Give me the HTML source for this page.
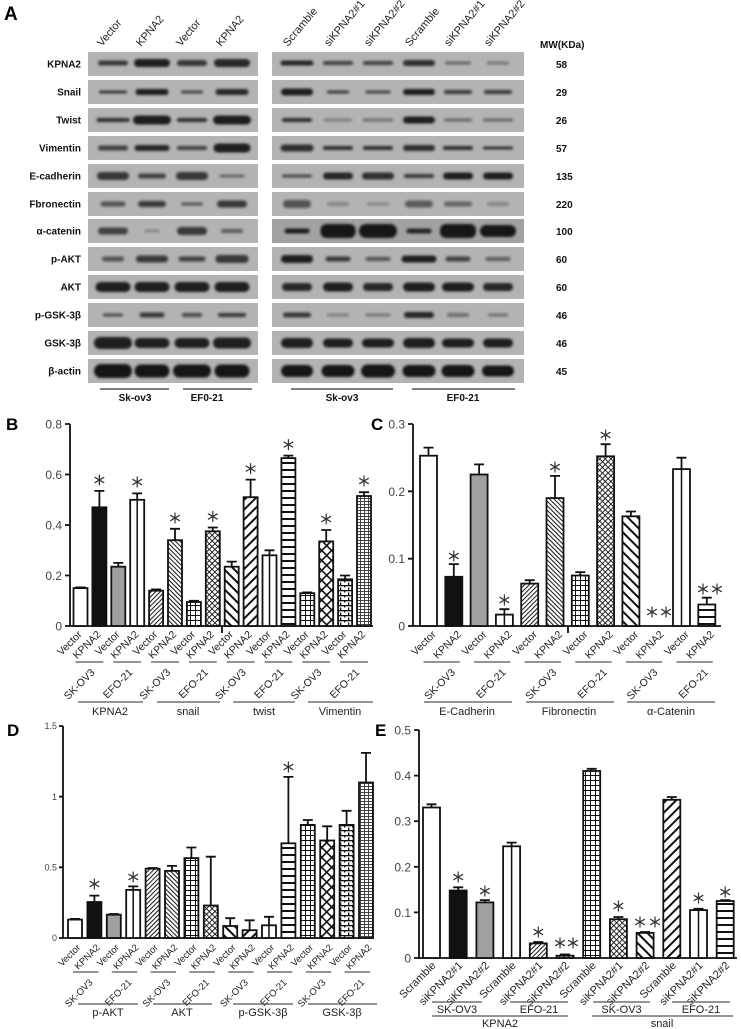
<!DOCTYPE html>
<html><head><meta charset="utf-8"><style>
html,body{margin:0;padding:0;background:#fff}
svg{display:block}
text{font-family:"Liberation Sans",Arial,sans-serif}
.lb{font-weight:bold;font-size:10px;fill:#111}
.hd{font-size:11px;fill:#222}
.tk{font-size:12px;fill:#444}
.tk9{font-size:9px;fill:#444}
.xl{font-size:10.5px;fill:#222}
.xd{font-size:9.5px;fill:#222}
.xe{font-size:11px;fill:#222}
.gl{font-size:11px;fill:#222}
.pl{font-weight:bold;fill:#000}
</style></head><body>
<svg width="741" height="1029" viewBox="0 0 741 1029" xmlns="http://www.w3.org/2000/svg">
<defs>
<filter id="bl" x="-30%" y="-150%" width="160%" height="400%"><feGaussianBlur stdDeviation="1.3"/></filter>
<pattern id="pd1" patternUnits="userSpaceOnUse" width="3.2" height="3.2" patternTransform="rotate(45)"><rect width="3.2" height="3.2" fill="#fff"/><rect width="1" height="3.2" fill="#111"/></pattern>
<pattern id="pd2" patternUnits="userSpaceOnUse" width="3.2" height="3.2" patternTransform="rotate(-45)"><rect width="3.2" height="3.2" fill="#fff"/><rect width="1" height="3.2" fill="#111"/></pattern>
<pattern id="pw1" patternUnits="userSpaceOnUse" width="7" height="7" patternTransform="rotate(45)"><rect width="7" height="7" fill="#fff"/><rect width="2" height="7" fill="#111"/></pattern>
<pattern id="pw2" patternUnits="userSpaceOnUse" width="7" height="7" patternTransform="rotate(-45)"><rect width="7" height="7" fill="#fff"/><rect width="2" height="7" fill="#111"/></pattern>
<pattern id="xh" patternUnits="userSpaceOnUse" width="4" height="4" patternTransform="rotate(45)"><rect width="4" height="4" fill="#fff"/><rect width="0.9" height="4" fill="#111"/><rect width="4" height="0.9" fill="#111"/></pattern>
<pattern id="dm" patternUnits="userSpaceOnUse" width="7" height="7" patternTransform="rotate(45)"><rect width="7" height="7" fill="#fff"/><rect width="1.6" height="7" fill="#111"/><rect width="7" height="1.6" fill="#111"/></pattern>
<pattern id="gr" patternUnits="userSpaceOnUse" width="5" height="5"><rect width="5" height="5" fill="#fff"/><rect width="1" height="5" fill="#111"/><rect width="5" height="1" fill="#111"/></pattern>
<pattern id="ph" patternUnits="userSpaceOnUse" width="10" height="7"><rect width="10" height="7" fill="#fff"/><rect width="10" height="2" fill="#111"/></pattern>
<pattern id="br" patternUnits="userSpaceOnUse" width="8" height="5"><rect width="8" height="5" fill="#fff"/><rect width="8" height="1.3" fill="#111"/><rect width="1.3" height="2.5" fill="#111"/><rect x="4" y="2.5" width="1.3" height="2.5" fill="#111"/></pattern>
<pattern id="br2" patternUnits="userSpaceOnUse" width="4" height="3"><rect width="4" height="3" fill="#fff"/><rect width="4" height="0.9" fill="#333"/><rect width="0.9" height="3" fill="#333"/></pattern>
<path id="st" d="M0-5.5V5.5M-4.8-2.8L4.8 2.8M-4.8 2.8L4.8-2.8" stroke="#333" stroke-width="1.2" fill="none"/>
</defs>
<rect width="741" height="1029" fill="#fff"/>

<!-- ============ PANEL A ============ -->
<text class="pl" x="4" y="20" font-size="19">A</text>
<g class="hd">
<text transform="translate(102,47) rotate(-50)">Vector</text>
<text transform="translate(141,47) rotate(-50)">KPNA2</text>
<text transform="translate(181,47) rotate(-50)">Vector</text>
<text transform="translate(221,47) rotate(-50)">KPNA2</text>
<text transform="translate(288,47) rotate(-50)">Scramble</text>
<text transform="translate(329,47) rotate(-50)">siKPNA2#1</text>
<text transform="translate(369,47) rotate(-50)">siKPNA2#2</text>
<text transform="translate(410,47) rotate(-50)">Scramble</text>
<text transform="translate(449,47) rotate(-50)">siKPNA2#1</text>
<text transform="translate(489,47) rotate(-50)">siKPNA2#2</text>
</g>
<text class="lb" x="540" y="48" font-size="11">MW(KDa)</text>

<g fill="#b3b3b3">
<rect x="88" y="52" width="170" height="24"/><rect x="272" y="52" width="252" height="24"/>
<rect x="88" y="80" width="170" height="24"/><rect x="272" y="80" width="252" height="24"/>
<rect x="88" y="108" width="170" height="24"/><rect x="272" y="108" width="252" height="24"/>
<rect x="88" y="136" width="170" height="24"/><rect x="272" y="136" width="252" height="24"/>
<rect x="88" y="164" width="170" height="24"/><rect x="272" y="164" width="252" height="24"/>
<rect x="88" y="192" width="170" height="24"/><rect x="272" y="192" width="252" height="24"/>
<rect x="88" y="219" width="170" height="24"/><rect x="272" y="219" width="252" height="24" fill="#a2a2a2"/>
<rect x="88" y="247" width="170" height="24"/><rect x="272" y="247" width="252" height="24"/>
<rect x="88" y="275" width="170" height="24"/><rect x="272" y="275" width="252" height="24"/>
<rect x="88" y="303" width="170" height="24"/><rect x="272" y="303" width="252" height="24"/>
<rect x="88" y="331" width="170" height="24"/><rect x="272" y="331" width="252" height="24"/>
<rect x="88" y="359" width="170" height="24"/><rect x="272" y="359" width="252" height="24"/>
</g>

<g fill="#151515" filter="url(#bl)">
<!-- KPNA2 -->
<rect x="98" y="60.5" width="30" height="5" rx="2.5" opacity=".75"/>
<rect x="134" y="59" width="36" height="8" rx="4" opacity=".95"/>
<rect x="177" y="60" width="30" height="6" rx="3" opacity=".8"/>
<rect x="214" y="59" width="36" height="8" rx="4" opacity=".9"/>
<rect x="280.5" y="60.5" width="33" height="5" rx="2.5" opacity=".9"/>
<rect x="323" y="61" width="30" height="4" rx="2" opacity=".7"/>
<rect x="363" y="61" width="30" height="4" rx="2" opacity=".7"/>
<rect x="403" y="60" width="32" height="6" rx="3" opacity=".85"/>
<rect x="445" y="61.5" width="26" height="3" rx="1.5" opacity=".5"/>
<rect x="487" y="61.5" width="22" height="3" rx="1.5" opacity=".4"/>
<!-- Snail -->
<rect x="99" y="90.5" width="28" height="3" rx="1.5" opacity=".8"/>
<rect x="135.5" y="89" width="33" height="6" rx="3" opacity=".95"/>
<rect x="181" y="90.5" width="22" height="3" rx="1.5" opacity=".7"/>
<rect x="215.5" y="89" width="33" height="6" rx="3" opacity=".9"/>
<rect x="281" y="88.5" width="32" height="7" rx="3.5" opacity=".95"/>
<rect x="327" y="90.5" width="22" height="3" rx="1.5" opacity=".75"/>
<rect x="365.5" y="90.5" width="25" height="3" rx="1.5" opacity=".7"/>
<rect x="403" y="89" width="32" height="6" rx="3" opacity=".95"/>
<rect x="444" y="90" width="28" height="4" rx="2" opacity=".75"/>
<rect x="484" y="90" width="28" height="4" rx="2" opacity=".75"/>
<!-- Twist -->
<rect x="96.5" y="118" width="33" height="4" rx="2" opacity=".85"/>
<rect x="133" y="115.5" width="38" height="9" rx="4.5" opacity=".95"/>
<rect x="177" y="118" width="30" height="4" rx="2" opacity=".85"/>
<rect x="213" y="115.5" width="38" height="9" rx="4.5" opacity=".95"/>
<rect x="282" y="118" width="30" height="4" rx="2" opacity=".85"/>
<rect x="324" y="118.5" width="28" height="3" rx="1.5" opacity=".35"/>
<rect x="363" y="118.5" width="30" height="3" rx="1.5" opacity=".45"/>
<rect x="403" y="116.5" width="32" height="7" rx="3.5" opacity=".95"/>
<rect x="444" y="118.5" width="28" height="3" rx="1.5" opacity=".5"/>
<rect x="483" y="118.5" width="30" height="3" rx="1.5" opacity=".5"/>
<!-- Vimentin -->
<rect x="98" y="145.5" width="30" height="5" rx="2.5" opacity=".7"/>
<rect x="134.5" y="145" width="35" height="6" rx="3" opacity=".9"/>
<rect x="177" y="146" width="30" height="4" rx="2" opacity=".7"/>
<rect x="213.5" y="143.5" width="37" height="9" rx="4.5" opacity=".95"/>
<rect x="280.5" y="144.5" width="33" height="7" rx="3.5" opacity=".85"/>
<rect x="323" y="146" width="30" height="4" rx="2" opacity=".85"/>
<rect x="363" y="146" width="30" height="4" rx="2" opacity=".85"/>
<rect x="403" y="145" width="32" height="6" rx="3" opacity=".85"/>
<rect x="443" y="146" width="30" height="4" rx="2" opacity=".85"/>
<rect x="483" y="146.5" width="30" height="3" rx="1.5" opacity=".85"/>
<!-- E-cadherin -->
<rect x="97" y="172" width="32" height="8" rx="4" opacity=".8"/>
<rect x="138" y="173.5" width="28" height="5" rx="2.5" opacity=".7"/>
<rect x="176" y="172" width="32" height="8" rx="4" opacity=".8"/>
<rect x="219.5" y="174.5" width="25" height="3" rx="1.5" opacity=".5"/>
<rect x="282" y="174.5" width="30" height="3" rx="1.5" opacity=".7"/>
<rect x="323" y="172.5" width="30" height="7" rx="3.5" opacity=".9"/>
<rect x="362" y="172.5" width="32" height="7" rx="3.5" opacity=".85"/>
<rect x="404" y="174" width="30" height="4" rx="2" opacity=".75"/>
<rect x="443" y="172.5" width="30" height="7" rx="3.5" opacity=".95"/>
<rect x="483" y="172.5" width="30" height="7" rx="3.5" opacity=".95"/>
<!-- Fbronectin -->
<rect x="100.5" y="201.5" width="25" height="5" rx="2.5" opacity=".6"/>
<rect x="138" y="201" width="28" height="6" rx="3" opacity=".75"/>
<rect x="181" y="202.5" width="22" height="3" rx="1.5" opacity=".6"/>
<rect x="217" y="200.5" width="30" height="7" rx="3.5" opacity=".75"/>
<rect x="283" y="200" width="28" height="8" rx="4" opacity=".6"/>
<rect x="327" y="202" width="22" height="4" rx="2" opacity=".3"/>
<rect x="367" y="202.5" width="22" height="3" rx="1.5" opacity=".25"/>
<rect x="405" y="200.5" width="28" height="7" rx="3.5" opacity=".55"/>
<rect x="444" y="201.5" width="28" height="5" rx="2.5" opacity=".5"/>
<rect x="487" y="202" width="22" height="4" rx="2" opacity=".3"/>
<!-- a-catenin -->
<rect x="98" y="227.5" width="30" height="7" rx="3.5" opacity=".7"/>
<rect x="144.5" y="229.5" width="15" height="3" rx="1.5" opacity=".3"/>
<rect x="177" y="227" width="30" height="8" rx="4" opacity=".75"/>
<rect x="221" y="229" width="22" height="4" rx="2" opacity=".55"/>
<rect x="284.5" y="228.5" width="25" height="5" rx="2.5" opacity=".95"/>
<rect x="320.5" y="224" width="35" height="14" rx="6" opacity="1"/>
<rect x="359" y="224" width="38" height="14" rx="7" opacity="1"/>
<rect x="406.5" y="228.5" width="25" height="5" rx="2.5" opacity=".9"/>
<rect x="440" y="224" width="36" height="14" rx="6" opacity="1"/>
<rect x="480" y="225" width="36" height="12" rx="6" opacity="1"/>
<!-- p-AKT -->
<rect x="102" y="256.5" width="22" height="5" rx="2.5" opacity=".6"/>
<rect x="136" y="255.5" width="32" height="7" rx="3.5" opacity=".75"/>
<rect x="178.5" y="256.5" width="27" height="5" rx="2.5" opacity=".7"/>
<rect x="215.5" y="255" width="33" height="8" rx="4" opacity=".8"/>
<rect x="281" y="255" width="32" height="8" rx="4" opacity=".95"/>
<rect x="325.5" y="256.5" width="25" height="5" rx="2.5" opacity=".75"/>
<rect x="365.5" y="257" width="25" height="4" rx="2" opacity=".6"/>
<rect x="401.5" y="255.5" width="35" height="7" rx="3.5" opacity=".95"/>
<rect x="445.5" y="256.5" width="25" height="5" rx="2.5" opacity=".7"/>
<rect x="485.5" y="257" width="25" height="4" rx="2" opacity=".55"/>
<!-- AKT -->
<rect x="95.5" y="282" width="35" height="10" rx="5" opacity=".95"/>
<rect x="134.5" y="282" width="35" height="10" rx="5" opacity=".95"/>
<rect x="174.5" y="282" width="35" height="10" rx="5" opacity=".95"/>
<rect x="214.5" y="282" width="35" height="10" rx="5" opacity=".95"/>
<rect x="282" y="283" width="30" height="8" rx="4" opacity=".9"/>
<rect x="323" y="282.5" width="30" height="9" rx="4.5" opacity=".95"/>
<rect x="363" y="283" width="30" height="8" rx="4" opacity=".9"/>
<rect x="403" y="282.5" width="32" height="9" rx="4.5" opacity=".95"/>
<rect x="442" y="282.5" width="32" height="9" rx="4.5" opacity=".95"/>
<rect x="483" y="283" width="30" height="8" rx="4" opacity=".9"/>
<!-- p-GSK-3b -->
<rect x="103" y="313.5" width="20" height="3" rx="1.5" opacity=".65"/>
<rect x="139.5" y="312.5" width="25" height="5" rx="2.5" opacity=".75"/>
<rect x="182" y="313" width="20" height="4" rx="2" opacity=".65"/>
<rect x="218" y="313" width="28" height="4" rx="2" opacity=".8"/>
<rect x="283" y="312.5" width="28" height="5" rx="2.5" opacity=".8"/>
<rect x="327" y="313.5" width="22" height="3" rx="1.5" opacity=".35"/>
<rect x="365.5" y="313.5" width="25" height="3" rx="1.5" opacity=".4"/>
<rect x="404" y="312" width="30" height="6" rx="3" opacity=".9"/>
<rect x="447" y="313" width="22" height="4" rx="2" opacity=".45"/>
<rect x="488" y="313.5" width="20" height="3" rx="1.5" opacity=".45"/>
<!-- GSK-3b -->
<rect x="94" y="337" width="38" height="12" rx="6" opacity=".95"/>
<rect x="134.5" y="338" width="35" height="10" rx="5" opacity=".95"/>
<rect x="174.5" y="338" width="35" height="10" rx="5" opacity=".95"/>
<rect x="213" y="337.5" width="38" height="11" rx="5.5" opacity=".95"/>
<rect x="281" y="338" width="32" height="10" rx="5" opacity=".95"/>
<rect x="323" y="338.5" width="30" height="9" rx="4.5" opacity=".95"/>
<rect x="362" y="338.5" width="32" height="9" rx="4.5" opacity=".95"/>
<rect x="403" y="338" width="32" height="10" rx="5" opacity=".95"/>
<rect x="442" y="338.5" width="32" height="9" rx="4.5" opacity=".95"/>
<rect x="483" y="338.5" width="30" height="9" rx="4.5" opacity=".95"/>
<!-- b-actin -->
<rect x="94" y="364" width="38" height="14" rx="7" opacity="1"/>
<rect x="134.5" y="364.5" width="35" height="13" rx="6.5" opacity="1"/>
<rect x="173" y="364.5" width="38" height="13" rx="6.5" opacity="1"/>
<rect x="214.5" y="364.5" width="35" height="13" rx="6.5" opacity="1"/>
<rect x="281" y="365" width="32" height="12" rx="6" opacity="1"/>
<rect x="321.5" y="365" width="33" height="12" rx="6" opacity="1"/>
<rect x="361" y="364.5" width="34" height="13" rx="6.5" opacity="1"/>
<rect x="402.5" y="365" width="33" height="12" rx="6" opacity="1"/>
<rect x="441.5" y="365" width="33" height="12" rx="6" opacity="1"/>
<rect x="482" y="365.5" width="32" height="11" rx="5.5" opacity="1"/>
</g>

<g class="lb" text-anchor="end">
<text x="81" y="67.5">KPNA2</text>
<text x="81" y="95.5">Snail</text>
<text x="81" y="123.5">Twist</text>
<text x="81" y="151.5">Vimentin</text>
<text x="81" y="179.5">E-cadherin</text>
<text x="81" y="207.5">Fbronectin</text>
<text x="81" y="234.5">α-catenin</text>
<text x="81" y="262.5">p-AKT</text>
<text x="81" y="290.5">AKT</text>
<text x="81" y="318.5">p-GSK-3β</text>
<text x="81" y="346.5">GSK-3β</text>
<text x="81" y="374.5">β-actin</text>
</g>
<g class="lb" font-size="11">
<text x="556" y="68">58</text>
<text x="556" y="96">29</text>
<text x="556" y="124">26</text>
<text x="556" y="152">57</text>
<text x="556" y="180">135</text>
<text x="556" y="208">220</text>
<text x="556" y="235">100</text>
<text x="556" y="263">60</text>
<text x="556" y="291">60</text>
<text x="556" y="319">46</text>
<text x="556" y="347">46</text>
<text x="556" y="375">45</text>
</g>
<g stroke="#555" stroke-width="1.5">
<line x1="100" y1="389" x2="169" y2="389"/><line x1="183" y1="389" x2="252" y2="389"/>
<line x1="291" y1="389" x2="393" y2="389"/><line x1="412" y1="389" x2="515" y2="389"/>
</g>
<g class="lb" text-anchor="middle">
<text x="135" y="401">Sk-ov3</text><text x="207" y="401">EF0-21</text>
<text x="342" y="401">Sk-ov3</text><text x="463" y="401">EF0-21</text>
</g>

<!-- ============ PANEL B ============ -->
<text class="pl" x="6" y="430" font-size="17">B</text>
<g stroke="#111" stroke-width="1.8" fill="none">
<path d="M70 424V626H373"/>
<path d="M65 424H70M65 474.5H70M65 525H70M65 575.5H70M65 626H70M222 626V633"/>
</g>
<g class="tk" text-anchor="end">
<text x="62" y="428.5">0.8</text><text x="62" y="479">0.6</text><text x="62" y="529.5">0.4</text><text x="62" y="580">0.2</text><text x="62" y="630.5">0</text>
</g>
<g stroke="#111" stroke-width="1.8">
<path d="M80.5 588.1V587.4M75.5 587.4H85.5M99.4 507.3V490.9M94.4 490.9H104.4M118.3 566.7V562.9M113.3 562.9H123.3M137.2 499.8V493.4M132.2 493.4H142.2M156.1 590.7V589.4M151.1 589.4H161.1M175 540.2V528.8M170 528.8H180M193.9 602V600.8M188.9 600.8H198.9M212.8 531.3V527.5M207.8 527.5H217.8M231.7 566.7V561.6M226.7 561.6H236.7M250.6 497.2V479.6M245.6 479.6H255.6M269.5 555.3V550.3M264.5 550.3H274.5M288.4 458.1V455.6M283.4 455.6H293.4M307.3 593.2V592.4M302.3 592.4H312.3M326.2 541.4V530M321.2 530H331.2M345.1 579.3V575.5M340.1 575.5H350.1M364 496V492.2M359 492.2H369"/>
<rect x="73.5" y="588.1" width="14" height="37.9" fill="#fff"/>
<rect x="92.4" y="507.3" width="14" height="118.7" fill="#111"/>
<rect x="111.3" y="566.7" width="14" height="59.3" fill="#a0a0a0"/>
<rect x="130.2" y="499.8" width="14" height="126.2" fill="#fff"/>
<rect x="149.1" y="590.7" width="14" height="35.3" fill="url(#pd1)"/>
<rect x="168" y="540.2" width="14" height="85.8" fill="url(#pd2)"/>
<rect x="186.9" y="602" width="14" height="24" fill="url(#gr)"/>
<rect x="205.8" y="531.3" width="14" height="94.7" fill="url(#xh)"/>
<rect x="224.7" y="566.7" width="14" height="59.3" fill="url(#pw2)"/>
<rect x="243.6" y="497.2" width="14" height="128.8" fill="url(#pw1)"/>
<rect x="262.5" y="555.3" width="14" height="70.7" fill="#fff"/>
<rect x="281.4" y="458.1" width="14" height="167.9" fill="url(#ph)"/>
<rect x="300.3" y="593.2" width="14" height="32.8" fill="url(#gr)"/>
<rect x="319.2" y="541.4" width="14" height="84.6" fill="url(#dm)"/>
<rect x="338.1" y="579.3" width="14" height="46.7" fill="url(#br)"/>
<rect x="357" y="496" width="14" height="130" fill="url(#br2)"/>
<path d="M137.2 499.8V626M269.5 555.3V626" stroke-width="1.5"/>
</g>
<use href="#st" x="99.4" y="480"/><use href="#st" x="137.2" y="482"/><use href="#st" x="175" y="518"/><use href="#st" x="212.8" y="516.5"/><use href="#st" x="250.6" y="468.6"/><use href="#st" x="288.4" y="444.6"/><use href="#st" x="326.2" y="519"/><use href="#st" x="364" y="481"/>
<g class="xl" text-anchor="end">
<text transform="translate(82.5,635) rotate(-45)">Vector</text>
<text transform="translate(101.4,635) rotate(-45)">KPNA2</text>
<text transform="translate(120.3,635) rotate(-45)">Vector</text>
<text transform="translate(139.2,635) rotate(-45)">KPNA2</text>
<text transform="translate(158.1,635) rotate(-45)">Vector</text>
<text transform="translate(177,635) rotate(-45)">KPNA2</text>
<text transform="translate(195.9,635) rotate(-45)">Vector</text>
<text transform="translate(214.8,635) rotate(-45)">KPNA2</text>
<text transform="translate(233.7,635) rotate(-45)">Vector</text>
<text transform="translate(252.6,635) rotate(-45)">KPNA2</text>
<text transform="translate(271.5,635) rotate(-45)">Vector</text>
<text transform="translate(290.4,635) rotate(-45)">KPNA2</text>
<text transform="translate(309.3,635) rotate(-45)">Vector</text>
<text transform="translate(328.2,635) rotate(-45)">KPNA2</text>
<text transform="translate(347.1,635) rotate(-45)">Vector</text>
<text transform="translate(366,635) rotate(-45)">KPNA2</text>
<text transform="translate(95.4,673) rotate(-45)">SK-OV3</text>
<text transform="translate(133.2,673) rotate(-45)">EFO-21</text>
<text transform="translate(171,673) rotate(-45)">SK-OV3</text>
<text transform="translate(208.8,673) rotate(-45)">EFO-21</text>
<text transform="translate(246.6,673) rotate(-45)">SK-OV3</text>
<text transform="translate(284.4,673) rotate(-45)">EFO-21</text>
<text transform="translate(322.2,673) rotate(-45)">SK-OV3</text>
<text transform="translate(360,673) rotate(-45)">EFO-21</text>
</g>
<g stroke="#555" stroke-width="1.2">
<path d="M75.5 662H103.4M113.3 662H141.2M151.1 662H179M188.9 662H216.8M226.7 662H254.6M264.5 662H292.4M302.3 662H330.2M340.1 662H368"/>
<path d="M78 702H143M157 702H220M233 702H295M308 702H373"/>
</g>
<g class="gl" text-anchor="middle">
<text x="110" y="715">KPNA2</text><text x="188" y="715">snail</text><text x="264" y="715">twist</text><text x="340" y="715">Vimentin</text>
</g>

<!-- ============ PANEL C ============ -->
<text class="pl" x="371" y="430" font-size="17">C</text>
<g stroke="#111" stroke-width="1.8" fill="none">
<path d="M413 424V626H721"/>
<path d="M408 424H413M408 491.3H413M408 558.7H413M408 626H413M568 626V633"/>
</g>
<g class="tk" text-anchor="end">
<text x="405" y="428.5">0.3</text><text x="405" y="495.8">0.2</text><text x="405" y="563.2">0.1</text><text x="405" y="630.5">0</text>
</g>
<g stroke="#111" stroke-width="1.8">
<path d="M428.5 455.7V447.6M423.5 447.6H433.5M453.8 576.8V564.1M448.8 564.1H458.8M479.1 474.5V464.4M474.1 464.4H484.1M504.4 614.6V609.2M499.4 609.2H509.4M529.7 583.6V580.2M524.7 580.2H534.7M555 498.1V475.9M550 475.9H560M580.3 575.5V572.1M575.3 572.1H585.3M605.6 456.3V444.2M600.6 444.2H610.6M630.9 516.3V511.5M625.9 511.5H635.9M681.5 469.1V457.7M676.5 457.7H686.5M706.8 604.5V597.7M701.8 597.7H711.8"/>
<rect x="420" y="455.7" width="17" height="170.3" fill="#fff"/>
<rect x="445.3" y="576.8" width="17" height="49.2" fill="#111"/>
<rect x="470.6" y="474.5" width="17" height="151.5" fill="#a0a0a0"/>
<rect x="495.9" y="614.6" width="17" height="11.4" fill="#fff"/>
<rect x="521.2" y="583.6" width="17" height="42.4" fill="url(#pd1)"/>
<rect x="546.5" y="498.1" width="17" height="127.9" fill="url(#pd2)"/>
<rect x="571.8" y="575.5" width="17" height="50.5" fill="url(#gr)"/>
<rect x="597.1" y="456.3" width="17" height="169.7" fill="url(#xh)"/>
<rect x="622.4" y="516.3" width="17" height="109.7" fill="url(#pw2)"/>
<rect x="673" y="469.1" width="17" height="156.9" fill="#fff"/>
<rect x="698.3" y="604.5" width="17" height="21.5" fill="url(#ph)"/>
<path d="M504.4 614.6V626M681.5 469.1V626" stroke-width="1.5"/>
</g>
<use href="#st" x="453.8" y="556"/><use href="#st" x="504.4" y="600"/><use href="#st" x="555" y="467"/><use href="#st" x="605.6" y="435"/><use href="#st" x="652" y="612"/><use href="#st" x="666" y="612"/><use href="#st" x="703" y="589"/><use href="#st" x="717" y="589"/>
<g class="xl" text-anchor="end">
<text transform="translate(436.5,635) rotate(-45)">Vector</text>
<text transform="translate(461.8,635) rotate(-45)">KPNA2</text>
<text transform="translate(487.1,635) rotate(-45)">Vector</text>
<text transform="translate(512.4,635) rotate(-45)">KPNA2</text>
<text transform="translate(537.7,635) rotate(-45)">Vector</text>
<text transform="translate(563,635) rotate(-45)">KPNA2</text>
<text transform="translate(588.3,635) rotate(-45)">Vector</text>
<text transform="translate(613.6,635) rotate(-45)">KPNA2</text>
<text transform="translate(638.9,635) rotate(-45)">Vector</text>
<text transform="translate(664.2,635) rotate(-45)">KPNA2</text>
<text transform="translate(689.5,635) rotate(-45)">Vector</text>
<text transform="translate(714.8,635) rotate(-45)">KPNA2</text>
<text transform="translate(455.8,673) rotate(-45)">SK-OV3</text>
<text transform="translate(506.4,673) rotate(-45)">EFO-21</text>
<text transform="translate(557,673) rotate(-45)">SK-OV3</text>
<text transform="translate(607.6,673) rotate(-45)">EFO-21</text>
<text transform="translate(658.2,673) rotate(-45)">SK-OV3</text>
<text transform="translate(708.8,673) rotate(-45)">EFO-21</text>
</g>
<g stroke="#555" stroke-width="1.2">
<path d="M423.5 662H459.8M474.1 662H510.4M524.7 662H561M575.3 662H611.6M625.9 662H662.2M676.5 662H712.8"/>
<path d="M424 702H512M526 702H614M627 702H715"/>
</g>
<g class="gl" text-anchor="middle">
<text x="467" y="715">E-Cadherin</text><text x="569" y="715">Fibronectin</text><text x="671" y="715">α-Catenin</text>
</g>

<!-- ============ PANEL D ============ -->
<text class="pl" x="7" y="736" font-size="17">D</text>
<g stroke="#111" stroke-width="1.8" fill="none">
<path d="M63 726V938H374"/>
<path d="M59 726H63M59 796.7H63M59 867.3H63M59 938H63"/>
</g>
<g class="tk9" text-anchor="end">
<text x="57" y="729">1.5</text><text x="57" y="800">1</text><text x="57" y="870.5">0.5</text><text x="57" y="941">0</text>
</g>
<g stroke="#111" stroke-width="1.8">
<path d="M75 919.6V918.9M70 918.9H80M94.4 902V895.6M89.4 895.6H99.4M113.8 914.7V914M108.8 914H118.8M133.2 889.9V886.4M128.2 886.4H138.2M152.6 868.7V868M147.6 868H157.6M172 870.9V865.9M167 865.9H177M191.4 858.1V847.5M186.4 847.5H196.4M210.8 905.5V856.7M205.8 856.7H215.8M230.2 926V918.2M225.2 918.2H235.2M249.6 930.2V920.3M244.6 920.3H254.6M269 925.3V916.8M264 916.8H274M288.4 843.3V776.9M283.4 776.9H293.4M307.8 824.9V820M302.8 820H312.8M327.2 840.5V826.3M322.2 826.3H332.2M346.6 824.9V810.8M341.6 810.8H351.6M366 782.5V752.9M361 752.9H371"/>
<rect x="68" y="919.6" width="14" height="18.4" fill="#fff"/>
<rect x="87.4" y="902" width="14" height="36" fill="#111"/>
<rect x="106.8" y="914.7" width="14" height="23.3" fill="#a0a0a0"/>
<rect x="126.2" y="889.9" width="14" height="48.1" fill="#fff"/>
<rect x="145.6" y="868.7" width="14" height="69.3" fill="url(#pd1)"/>
<rect x="165" y="870.9" width="14" height="67.1" fill="url(#pd2)"/>
<rect x="184.4" y="858.1" width="14" height="79.9" fill="url(#gr)"/>
<rect x="203.8" y="905.5" width="14" height="32.5" fill="url(#xh)"/>
<rect x="223.2" y="926" width="14" height="12" fill="url(#pw2)"/>
<rect x="242.6" y="930.2" width="14" height="7.8" fill="url(#pw1)"/>
<rect x="262" y="925.3" width="14" height="12.7" fill="#fff"/>
<rect x="281.4" y="843.3" width="14" height="94.7" fill="url(#ph)"/>
<rect x="300.8" y="824.9" width="14" height="113.1" fill="url(#gr)"/>
<rect x="320.2" y="840.5" width="14" height="97.5" fill="url(#dm)"/>
<rect x="339.6" y="824.9" width="14" height="113.1" fill="url(#br)"/>
<rect x="359" y="782.5" width="14" height="155.5" fill="url(#br2)"/>
<path d="M133.2 889.9V938M269 925.3V938" stroke-width="1.5"/>
</g>
<use href="#st" x="94.4" y="884"/><use href="#st" x="133.2" y="877"/><use href="#st" x="288.4" y="767"/>
<g class="xd" text-anchor="end">
<text transform="translate(81,948) rotate(-45)">Vector</text>
<text transform="translate(100.4,948) rotate(-45)">KPNA2</text>
<text transform="translate(119.8,948) rotate(-45)">Vector</text>
<text transform="translate(139.2,948) rotate(-45)">KPNA2</text>
<text transform="translate(158.6,948) rotate(-45)">Vector</text>
<text transform="translate(178,948) rotate(-45)">KPNA2</text>
<text transform="translate(197.4,948) rotate(-45)">Vector</text>
<text transform="translate(216.8,948) rotate(-45)">KPNA2</text>
<text transform="translate(236.2,948) rotate(-45)">Vector</text>
<text transform="translate(255.6,948) rotate(-45)">KPNA2</text>
<text transform="translate(275,948) rotate(-45)">Vector</text>
<text transform="translate(294.4,948) rotate(-45)">KPNA2</text>
<text transform="translate(313.8,948) rotate(-45)">Vector</text>
<text transform="translate(333.2,948) rotate(-45)">KPNA2</text>
<text transform="translate(352.6,948) rotate(-45)">Vector</text>
<text transform="translate(372,948) rotate(-45)">KPNA2</text>
<text transform="translate(93.4,983) rotate(-45)">SK-OV3</text>
<text transform="translate(132.2,983) rotate(-45)">EFO-21</text>
<text transform="translate(171,983) rotate(-45)">SK-OV3</text>
<text transform="translate(209.8,983) rotate(-45)">EFO-21</text>
<text transform="translate(248.6,983) rotate(-45)">SK-OV3</text>
<text transform="translate(287.4,983) rotate(-45)">EFO-21</text>
<text transform="translate(326.2,983) rotate(-45)">SK-OV3</text>
<text transform="translate(365,983) rotate(-45)">EFO-21</text>
</g>
<g stroke="#555" stroke-width="1.2">
<path d="M73 972H98.4M111.8 972H137.2M150.6 972H176M189.4 972H214.8M228.2 972H253.6M267 972H292.4M305.8 972H331.2M344.6 972H370"/>
<path d="M78 1004H138M153 1004H212M233 1004H293M308 1004H377"/>
</g>
<g class="gl" font-size="10" text-anchor="middle">
<text x="108" y="1016">p-AKT</text><text x="182" y="1016">AKT</text><text x="263" y="1016">p-GSK-3β</text><text x="342" y="1016">GSK-3β</text>
</g>

<!-- ============ PANEL E ============ -->
<text class="pl" x="375" y="736" font-size="17">E</text>
<g stroke="#111" stroke-width="1.8" fill="none">
<path d="M419 730V958H737"/>
<path d="M414 730H419M414 775.6H419M414 821.2H419M414 866.8H419M414 912.4H419M414 958H419"/>
</g>
<g class="tk" text-anchor="end">
<text x="411" y="734.5">0.5</text><text x="411" y="780">0.4</text><text x="411" y="825.7">0.3</text><text x="411" y="871.3">0.2</text><text x="411" y="917">0.1</text><text x="411" y="962.5">0</text>
</g>
<g stroke="#111" stroke-width="1.8">
<path d="M431.5 807.5V804.3M426.5 804.3H436.5M458.2 890.5V887.3M453.2 887.3H463.2M484.9 902.4V900.1M479.9 900.1H489.9M511.6 846.3V842.6M506.6 842.6H516.6M538.3 943.4V942M533.3 942H543.3M565 955.7V954.4M560 954.4H570M591.7 771V768.8M586.7 768.8H596.7M618.4 919.2V917M613.4 917H623.4M645.1 932.9V932M640.1 932H650.1M671.8 799.8V797M666.8 797H676.8M698.5 910.1V908.8M693.5 908.8H703.5M725.2 901V900.1M720.2 900.1H730.2"/>
<rect x="423" y="807.5" width="17" height="150.5" fill="#fff"/>
<rect x="449.7" y="890.5" width="17" height="67.5" fill="#111"/>
<rect x="476.4" y="902.4" width="17" height="55.6" fill="#a0a0a0"/>
<rect x="503.1" y="846.3" width="17" height="111.7" fill="#fff"/>
<rect x="529.8" y="943.4" width="17" height="14.6" fill="url(#pd1)"/>
<rect x="556.5" y="955.7" width="17" height="2.3" fill="url(#pd2)"/>
<rect x="583.2" y="771" width="17" height="187" fill="url(#gr)"/>
<rect x="609.9" y="919.2" width="17" height="38.8" fill="url(#xh)"/>
<rect x="636.6" y="932.9" width="17" height="25.1" fill="url(#pw2)"/>
<rect x="663.3" y="799.8" width="17" height="158.2" fill="url(#pw1)"/>
<rect x="690" y="910.1" width="17" height="47.9" fill="#fff"/>
<rect x="716.7" y="901" width="17" height="57" fill="url(#ph)"/>
<path d="M511.6 846.3V958M698.5 910.1V958" stroke-width="1.5"/>
</g>
<use href="#st" x="458.2" y="877"/><use href="#st" x="484.9" y="891"/><use href="#st" x="538.3" y="932"/><use href="#st" x="560" y="943"/><use href="#st" x="573" y="943"/><use href="#st" x="618.4" y="906"/><use href="#st" x="640" y="922"/><use href="#st" x="655" y="922"/><use href="#st" x="698.5" y="898"/><use href="#st" x="725.2" y="892"/>
<g class="xe" text-anchor="end">
<text transform="translate(436.5,966) rotate(-45)">Scramble</text>
<text transform="translate(463.2,966) rotate(-45)">siKPNA2#1</text>
<text transform="translate(489.9,966) rotate(-45)">siKPNA2#2</text>
<text transform="translate(516.6,966) rotate(-45)">Scramble</text>
<text transform="translate(543.3,966) rotate(-45)">siKPNA2#1</text>
<text transform="translate(570,966) rotate(-45)">siKPNA2#2</text>
<text transform="translate(596.7,966) rotate(-45)">Scramble</text>
<text transform="translate(623.4,966) rotate(-45)">siKPNA2#1</text>
<text transform="translate(650.1,966) rotate(-45)">siKPNA2#2</text>
<text transform="translate(676.8,966) rotate(-45)">Scramble</text>
<text transform="translate(703.5,966) rotate(-45)">siKPNA2#1</text>
<text transform="translate(730.2,966) rotate(-45)">siKPNA2#2</text>
</g>
<g stroke="#555" stroke-width="1.2">
<path d="M432 1002H482M510 1002H568M593 1002H650M672 1002H730"/>
<path d="M432 1016H568M592 1016H733"/>
</g>
<g class="gl" text-anchor="middle">
<text x="457" y="1013">SK-OV3</text><text x="539" y="1013">EFO-21</text><text x="621.5" y="1013">SK-OV3</text><text x="701" y="1013">EFO-21</text>
<text x="500" y="1027">KPNA2</text><text x="662" y="1027">snail</text>
</g>
</svg>
</body></html>
